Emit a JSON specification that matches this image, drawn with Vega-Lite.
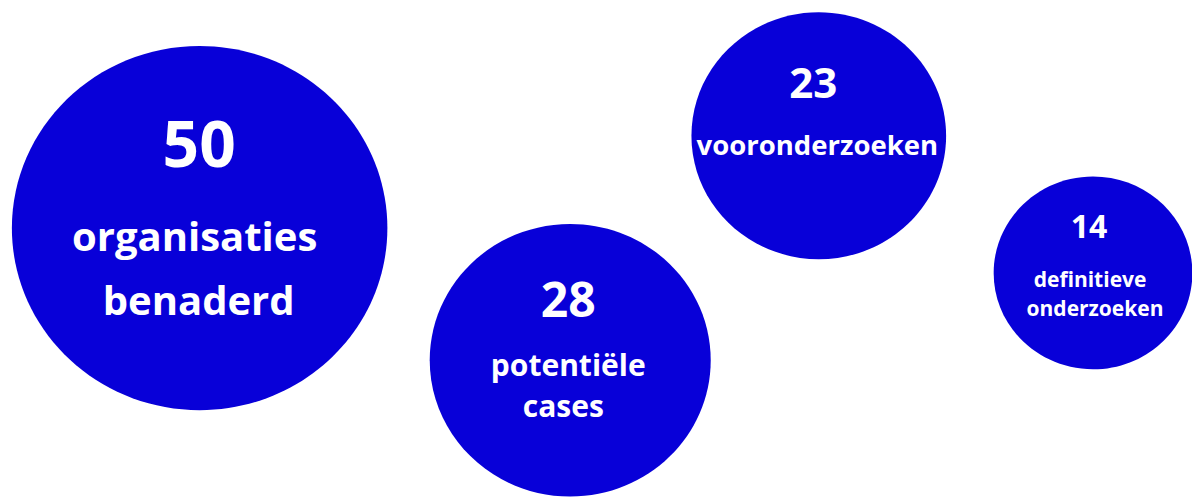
{
  "$schema": "https://vega.github.io/schema/vega-lite/v6.json",
  "width": 1192,
  "height": 497,
  "padding": 0,
  "autosize": {"type": "fit", "contains": "padding"},
  "background": "white",
  "config": {"view": {"stroke": null}},
  "datasets": {
    "bubbles": [
      {"name": "organisaties benaderd", "value": 50, "x": 202, "y": 228.5},
      {"name": "potentiële cases", "value": 28, "x": 577, "y": 361},
      {"name": "vooronderzoeken", "value": 23, "x": 828.5, "y": 136},
      {"name": "definitieve onderzoeken", "value": 14, "x": 1106, "y": 273.5}
    ],
    "texts": [
      {"value": 50, "kind": "number", "text": "50", "x": 201.5, "y": 167},
      {"value": 50, "kind": "label", "text": "organisaties", "x": 197, "y": 252},
      {"value": 50, "kind": "label", "text": "benaderd", "x": 201, "y": 316},
      {"value": 28, "kind": "number", "text": "28", "x": 575, "y": 318},
      {"value": 28, "kind": "label", "text": "potentiële", "x": 575, "y": 377},
      {"value": 28, "kind": "label", "text": "cases", "x": 570, "y": 418},
      {"value": 23, "kind": "number", "text": "23", "x": 823, "y": 98},
      {"value": 23, "kind": "label", "text": "vooronderzoeken", "x": 827, "y": 155},
      {"value": 14, "kind": "number", "text": "14", "x": 1102, "y": 238},
      {"value": 14, "kind": "label", "text": "definitieve", "x": 1103, "y": 288},
      {"value": 14, "kind": "label", "text": "onderzoeken", "x": 1108, "y": 317}
    ]
  },
  "layer": [
    {
      "data": {"name": "bubbles"},
      "mark": {
        "type": "point",
        "filled": true,
        "opacity": 1,
        "color": "#0800d8",
        "shape": "M1,0 C1,0.5357 0.5523,0.97 0,0.97 C-0.5523,0.97 -1,0.5357 -1,0 C-1,-0.5357 -0.5523,-0.97 0,-0.97 C0.5523,-0.97 1,-0.5357 1,0 Z"
      },
      "encoding": {
        "x": {"field": "x", "type": "quantitative", "scale": {"domain": [0, 1192]}, "axis": null},
        "y": {"field": "y", "type": "quantitative", "scale": {"domain": [0, 497], "reverse": true}, "axis": null},
        "size": {"field": "value", "type": "quantitative", "scale": {"domain": [0, 50], "range": [0, 141000], "zero": true}, "legend": null}
      }
    },
    {
      "data": {"name": "texts"},
      "transform": [{"filter": "datum.kind === 'number'"}],
      "mark": {"type": "text", "font": "Open Sans", "fontWeight": "bold", "color": "white", "align": "center", "baseline": "alphabetic"},
      "encoding": {
        "x": {"field": "x", "type": "quantitative", "scale": {"domain": [0, 1192]}, "axis": null},
        "y": {"field": "y", "type": "quantitative", "scale": {"domain": [0, 497], "reverse": true}, "axis": null},
        "text": {"field": "text"},
        "size": {"field": "value", "type": "quantitative", "scale": {"type": "linear", "zero": false, "domain": [14, 23, 28, 50], "range": [32, 42, 48, 64]}, "legend": null}
      }
    },
    {
      "data": {"name": "texts"},
      "transform": [{"filter": "datum.kind === 'label'"}],
      "mark": {"type": "text", "font": "Open Sans", "fontWeight": "bold", "color": "white", "align": "center", "baseline": "alphabetic"},
      "encoding": {
        "x": {"field": "x", "type": "quantitative", "scale": {"domain": [0, 1192]}, "axis": null},
        "y": {"field": "y", "type": "quantitative", "scale": {"domain": [0, 497], "reverse": true}, "axis": null},
        "text": {"field": "text"},
        "size": {"field": "value", "type": "quantitative", "scale": {"type": "linear", "zero": false, "domain": [14, 23, 28, 50], "range": [21, 27.5, 30, 40]}, "legend": null}
      }
    }
  ],
  "resolve": {"scale": {"size": "independent"}}
}
